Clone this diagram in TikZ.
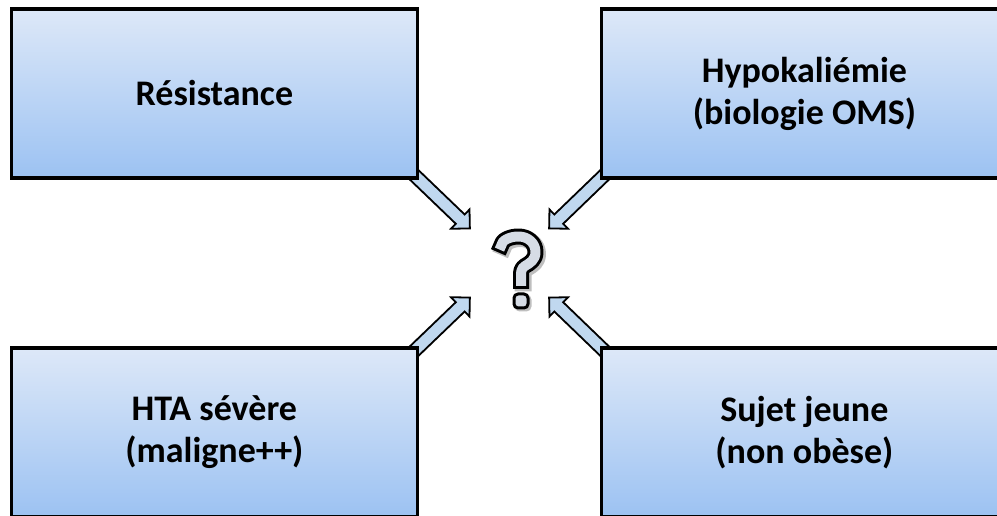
\documentclass[tikz,border=0pt]{standalone}
\usepackage{fontspec}
\setmainfont{Carlito}
\usetikzlibrary{%
  shapes.arrows,%
  positioning,%
  backgrounds%
}

\definecolor{cardtop}{RGB}{221,232,248}
\definecolor{cardbottom}{RGB}{156,194,242}
\definecolor{arrowfill}{RGB}{192,216,239}
\definecolor{glyphgrey}{RGB}{214,220,229}

\begin{document}
\begin{tikzpicture}[
      x=1pt, y=1pt,
      every text node part/.style={align=center},
      card/.style={
        rectangle,
        draw,
        line width=3.8pt,
        top color=cardtop,
        bottom color=cardbottom,
        minimum width=406pt,
        minimum height=169pt,
        outer sep=0pt,
        font=\fontsize{36}{42}\selectfont\bfseries
      },
      node distance=170pt and 184pt,
      blockarrow/.style={
        single arrow,
        draw,
        line width=1.8pt,
        fill=arrowfill,
        inner xsep=0pt,
        inner ysep=5.5pt,
        minimum height=90pt,
        single arrow head extend=7pt,
        single arrow tip angle=90,
        sloped,
        allow upside down,
        anchor=tip,
        pos=1
      }
    ]
    \clip (0,0) rectangle (997,516);
    \useasboundingbox (0,0) rectangle (997,516);

    \node[card] (Resistance) at (214.4,422.5) {R\'esistance};
    \node[card, right=of Resistance] (Hypokaliemie)
      {Hypokali\'emie\\(biologie OMS)};
    \node[card, below=of Resistance] (HTA)
      {HTA s\'ev\`ere\\(maligne++)};
    \node[card, below=of Hypokaliemie] (Jeune)
      {Sujet jeune\\(non ob\`ese)};

    % the four arrows meet at the corners of this box
    \node[minimum width=77pt, minimum height=67pt, inner sep=0pt]
      (qm) at (509.5,253) {};

    \begin{scope}[on background layer]
      \path (Resistance.south east) -- (qm.north west) node[blockarrow] {};
      \path (Hypokaliemie.south west) -- (qm.north east) node[blockarrow] {};
      \path (HTA.north east) -- (qm.south west) node[blockarrow] {};
      \path (Jeune.north west) -- (qm.south east) node[blockarrow] {};
    \end{scope}

    % question mark: shadow, black outline, grey core
    \begin{scope}[shift={(qm.center)}, line join=round, line cap=rect]
      \def\hook{(-8,18) .. controls (-8,22) and (-0.5,26.5) .. (9,26.5)
        .. controls (18.5,26.5) and (26,20) .. (26,11)
        .. controls (26,3) and (20.5,0) .. (15.5,-3)
        .. controls (11.5,-5.5) and (11.5,-9) .. (11.5,-13) -- (11.5,-18)}
      \draw[black, opacity=0.25, line width=17pt, shift={(2,-2)}] \hook;
      \fill[black, opacity=0.25, rounded corners=5pt, shift={(2,-2)}]
        (3,-29.5) rectangle (20,-46.5);
      \draw[black, line width=16pt] \hook;
      \draw[glyphgrey, line width=10pt] \hook;
      \draw[line width=3pt, fill=glyphgrey, rounded corners=4pt]
        (4.5,-31) rectangle (18.5,-45);
    \end{scope}
  \end{tikzpicture}
\end{document}
